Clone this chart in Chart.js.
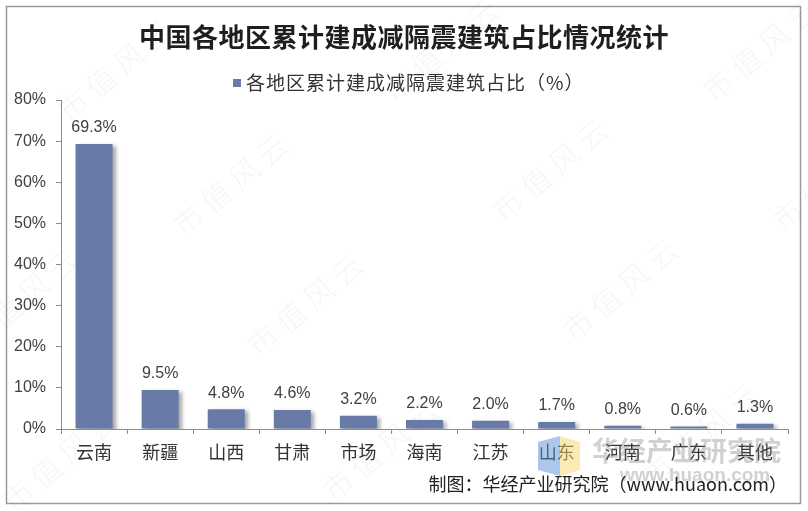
<!DOCTYPE html>
<html>
<head>
<meta charset="utf-8">
<script src="https://cdn.jsdelivr.net/npm/chart.js@4/dist/chart.umd.min.js"></script>
<style>
  html, body { margin: 0; padding: 0; background: #fff; }
  #wrap { width: 808px; height: 511px; }
</style>
</head>
<body>
<div id="wrap"><canvas id="c" width="808" height="511"></canvas></div>
<script>
// Regions and their cumulative share of seismic-isolation buildings (%)
const regions = ['云南', '新疆', '山西', '甘肃', '市场', '海南', '江苏', '山东', '河南', '广东', '其他'];
const shares = [69.3, 9.5, 4.8, 4.6, 3.2, 2.2, 2.0, 1.7, 0.8, 0.6, 1.3];
const yTicks = [0, 10, 20, 30, 40, 50, 60, 70, 80];

const titleText = '中国各地区累计建成减隔震建筑占比情况统计';
const seriesName = '各地区累计建成减隔震建筑占比（%）';
const sourceText = '制图：华经产业研究院（www.huaon.com）';
const watermark = '市值风云';

const BAR = '#687ba6';
const CJK = '"Noto Sans CJK SC", "Noto Sans", sans-serif';
const LAT = '"Liberation Sans", Arial, sans-serif';

const frame = {
  id: 'frame',
  beforeDraw(chart) {
    const ctx = chart.ctx;
    ctx.save();
    ctx.fillStyle = '#fff';
    ctx.fillRect(0, 0, chart.width, chart.height);
    // outer border
    ctx.strokeStyle = '#9a9a9a';
    ctx.lineWidth = 1.5;
    ctx.strokeRect(6.5, 6.5, 794, 497);
    // faint diagonal watermarks
    const spots = [[115, 70], [440, 50], [760, 50], [230, 185], [550, 170], [830, 180],
                   [20, 300], [305, 305], [620, 290], [60, 460], [380, 450], [700, 435]];
    ctx.fillStyle = 'rgba(0,0,0,0.04)';
    ctx.font = '300 30px ' + CJK;
    ctx.textAlign = 'center';
    ctx.textBaseline = 'middle';
    spots.forEach(([x, y]) => {
      ctx.save();
      ctx.translate(x, y);
      ctx.rotate(-40 * Math.PI / 180);
      ctx.fillText(watermark.split('').join(' '), 0, 0);
      ctx.restore();
    });
    ctx.restore();
  },
  beforeDatasetsDraw(chart) {
    const ctx = chart.ctx;
    ctx.save();
    ctx.shadowColor = 'rgba(0,0,0,0.35)';
    ctx.shadowBlur = 4;
    ctx.shadowOffsetX = 3;
    ctx.shadowOffsetY = 2;
  },
  afterDatasetsDraw(chart) {
    chart.ctx.restore();
  },
  afterDraw(chart) {
    const ctx = chart.ctx;
    ctx.save();
    // title
    ctx.fillStyle = '#1e1e1e';
    ctx.font = 'bold 26px ' + CJK;
    ctx.textAlign = 'center';
    ctx.textBaseline = 'middle';
    ctx.letterSpacing = '0.5px';
    ctx.fillText(titleText, 404, 37);
    // legend
    ctx.fillStyle = BAR;
    ctx.fillRect(233, 79, 8, 8);
    ctx.fillStyle = '#333';
    ctx.font = '19px ' + CJK;
    ctx.textAlign = 'left';
    ctx.letterSpacing = '1px';
    ctx.fillText(seriesName, 246, 83);
    ctx.letterSpacing = '0px';
    // value labels above bars
    const meta = chart.getDatasetMeta(0);
    ctx.font = '16px ' + LAT;
    ctx.textAlign = 'center';
    ctx.textBaseline = 'bottom';
    ctx.fillStyle = '#404040';
    meta.data.forEach((bar, i) => {
      ctx.fillText(shares[i].toFixed(1) + '%', bar.x, bar.y - 8);
    });
    // publisher mark
    ctx.globalAlpha = 0.5;
    ctx.fillStyle = '#5b8fd8';
    ctx.beginPath();
    ctx.moveTo(538, 442); ctx.lineTo(560, 436); ctx.lineTo(560, 476); ctx.lineTo(538, 470);
    ctx.closePath(); ctx.fill();
    ctx.fillStyle = '#f5d86a';
    ctx.beginPath();
    ctx.moveTo(560, 436); ctx.lineTo(580, 442); ctx.lineTo(580, 470); ctx.lineTo(560, 476);
    ctx.closePath(); ctx.fill();
    ctx.globalAlpha = 0.35;
    ctx.fillStyle = '#7a7a7a';
    ctx.font = 'bold 27px ' + CJK;
    ctx.textAlign = 'left';
    ctx.textBaseline = 'middle';
    ctx.fillText('华经产业研究院', 592, 451);
    ctx.font = 'bold 19px ' + LAT;
    ctx.fillText('www.huaon.com', 620, 476);
    ctx.globalAlpha = 1;
    // source line
    ctx.fillStyle = '#222';
    ctx.font = '18px ' + CJK;
    ctx.textAlign = 'right';
    ctx.textBaseline = 'middle';
    ctx.fillText(sourceText, 787, 484);
    ctx.restore();
  }
};

new Chart(document.getElementById('c'), {
  type: 'bar',
  data: {
    labels: regions,
    datasets: [{
      label: seriesName,
      data: shares,
      backgroundColor: BAR,
      borderWidth: 0,
      barPercentage: 0.56,
      categoryPercentage: 1
    }]
  },
  options: {
    responsive: false,
    animation: false,
    devicePixelRatio: 1,
    layout: { padding: { top: 100, right: 20, bottom: 0, left: 0 } },
    plugins: {
      legend: { display: false },
      title: { display: false },
      tooltip: { enabled: false }
    },
    scales: {
      x: {
        afterFit(scale) { scale.height = 82; },
        grid: {
          display: true, offset: true, drawOnChartArea: false, drawTicks: true,
          tickLength: 5, color: '#8c8c8c'
        },
        border: { display: true, color: '#8c8c8c', width: 1 },
        ticks: {
          color: '#333', padding: 7,
          font: { family: CJK, size: 18 }
        }
      },
      y: {
        min: 0, max: 80,
        afterFit(scale) { scale.width = 61; },
        afterBuildTicks(scale) { scale.ticks = yTicks.map(v => ({ value: v })); },
        grid: {
          display: true, drawOnChartArea: false, drawTicks: true,
          tickLength: 5, color: '#8c8c8c'
        },
        border: { display: true, color: '#8c8c8c', width: 1 },
        ticks: {
          color: '#404040', padding: 10,
          font: { family: LAT, size: 16 },
          callback: v => v + '%'
        }
      }
    }
  },
  plugins: [frame]
});
</script>
</body>
</html>
